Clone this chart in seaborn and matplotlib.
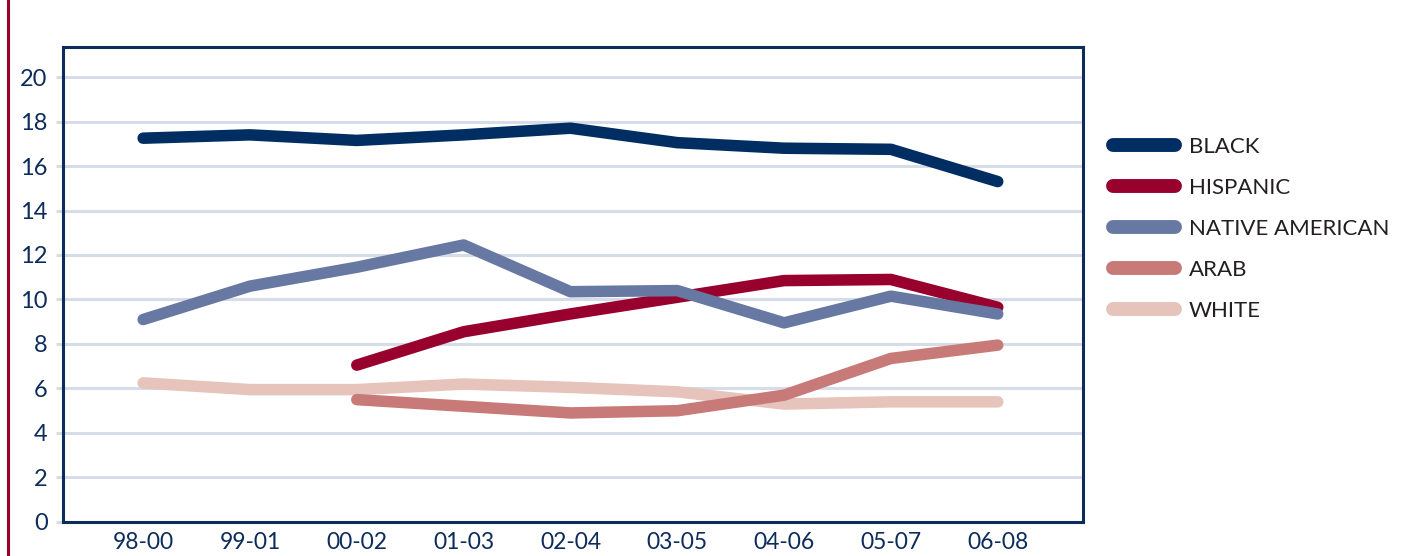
import numpy as np
import pandas as pd
import matplotlib.pyplot as plt
import seaborn as sns
from matplotlib.lines import Line2D

periods = ['98-00', '99-01', '00-02', '01-03', '02-04', '03-05', '04-06', '05-07', '06-08']
black = [17.25, 17.4, 17.15, 17.4, 17.7, 17.05, 16.8, 16.75, 15.3]
hispanic = [np.nan, np.nan, 7.05, 8.55, 9.35, 10.1, 10.85, 10.9, 9.65]
native = [9.1, 10.6, 11.45, 12.45, 10.35, 10.4, 8.95, 10.15, 9.35]
arab = [np.nan, np.nan, 5.5, 5.2, 4.9, 5.0, 5.7, 7.35, 7.95]
white = [6.25, 5.95, 5.95, 6.2, 6.05, 5.85, 5.3, 5.4, 5.4]

names = ['BLACK', 'HISPANIC', 'NATIVE AMERICAN', 'ARAB', 'WHITE']
colors = ['#002e62', '#98002e', '#6779a3', '#c87a78', '#e6c3bb']
zorders = [5, 3, 4, 3.5, 2.5]
series = [black, hispanic, native, arab, white]

rows = []
for name, vals in zip(names, series):
    for i, v in enumerate(vals):
        rows.append({'x': i, 'rate': v, 'group': name})
df = pd.DataFrame(rows)

sns.set_style('white')
plt.rcParams['font.family'] = ['Lato', 'DejaVu Sans']

fig = plt.figure(figsize=(14.13, 5.56), dpi=100)
ax = fig.add_axes([0.0446, 0.0612, 0.722, 0.8543])

for name, color, z in zip(names, colors, zorders):
    sub = df[df['group'] == name].dropna()
    sns.lineplot(data=sub, x='x', y='rate', ax=ax, color=color, lw=8.3,
                 solid_capstyle='round', zorder=z, legend=False)

ax.set_xlim(-0.75, 8.8)
ax.set_ylim(0, 21.35)
ax.set_yticks(range(0, 21, 2))
ax.set_xticks(range(len(periods)))
ax.set_xticklabels(periods)
ax.set_xlabel('')
ax.set_ylabel('')

navy = '#0d2c5c'
for s in ax.spines.values():
    s.set_color(navy)
    s.set_linewidth(2.2)
ax.yaxis.grid(True, color='#d6dce8', lw=2.2, zorder=0)
ax.set_axisbelow(True)
ax.tick_params(axis='y', length=5, width=2.2, color='#d6dce8', pad=6,
               labelsize=17, labelcolor=navy, left=True)
ax.tick_params(axis='x', length=0, pad=7, labelsize=16.5, labelcolor=navy)

handles = [Line2D([0], [0], color=c, lw=10, solid_capstyle='round') for c in colors]
fig.legend(handles, names, loc='upper left', bbox_to_anchor=(0.7735, 0.79),
           frameon=False, fontsize=16, handlelength=2.8, handletextpad=0.62,
           labelspacing=0.95, labelcolor='#231f20')

fig.add_artist(Line2D([0.0057, 0.0057], [0, 1], color='#98002e', lw=2.2,
                      transform=fig.transFigure))

plt.savefig('out.png', dpi=100)
plt.close()
